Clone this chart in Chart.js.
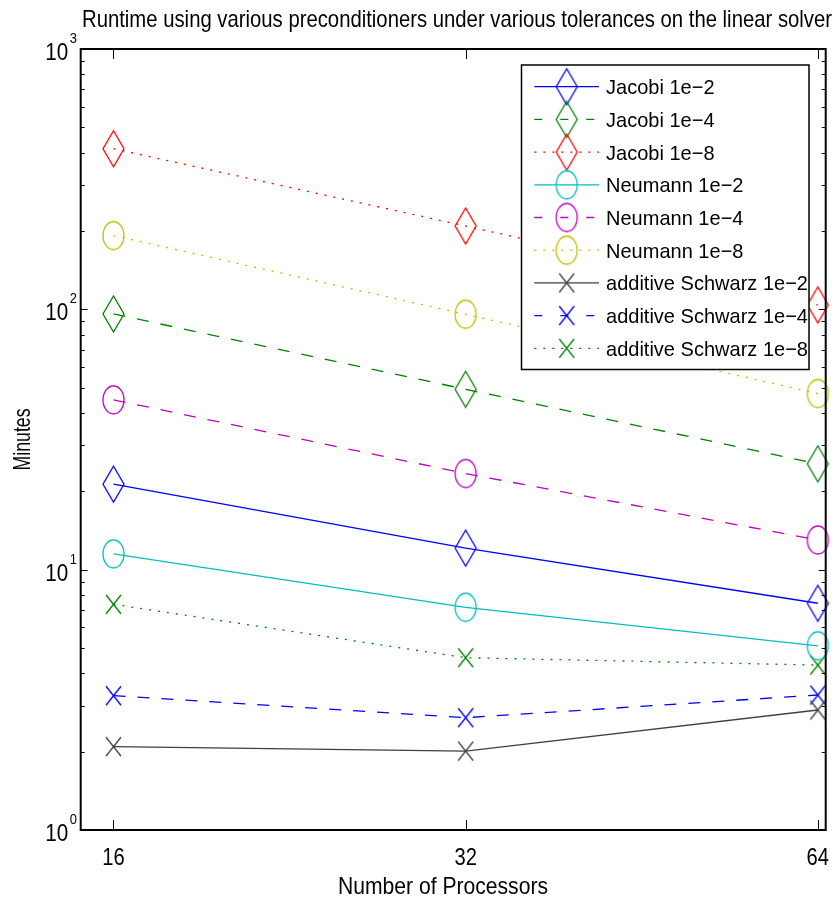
<!DOCTYPE html>
<html>
<head>
<meta charset="utf-8">
<script src="https://cdn.jsdelivr.net/npm/chart.js@4/dist/chart.umd.min.js"></script>
<style>
  html, body { margin: 0; padding: 0; background: #fff; }
  #chart-container { width: 834px; height: 903px; position: relative; }
</style>
</head>
<body>
<div id="chart-container"><canvas id="runtimeChart"></canvas></div>
<script>
// number of processors (x) and runtime in minutes (y) per preconditioner / tolerance
var processors = [16, 32, 64];
var jacobi2 = [21.3, 12.1, 7.43];
var jacobi4 = [96, 49.3, 25.5];
var jacobi8 = [414, 209, 104];
var neumann2 = [11.5, 7.17, 5.1];
var neumann4 = [44.9, 23.4, 13.0];
var neumann8 = [192, 95.7, 47.5];
var schwarz2 = [2.09, 2.01, 2.89];
var schwarz4 = [3.28, 2.70, 3.30];
var schwarz8 = [7.36, 4.59, 4.3];

var seriesLabels = ['Jacobi 1e\u22122', 'Jacobi 1e\u22124', 'Jacobi 1e\u22128',
  'Neumann 1e\u22122', 'Neumann 1e\u22124', 'Neumann 1e\u22128',
  'additive Schwarz 1e\u22122', 'additive Schwarz 1e\u22124', 'additive Schwarz 1e\u22128'];
var yTicks = [1, 10, 100, 1000];
var yTickExponents = ['0', '1', '2', '3'];
var xTicks = [16, 32, 64];

var titleText = 'Runtime using various preconditioners under various tolerances on the linear solver';
var xTitle = 'Number of Processors';
var yTitle = 'Minutes';

var FONT = '"Liberation Sans", Arial, Helvetica, sans-serif';

// hollow markers, a bit taller than wide like the original figure
function makeMarker(shape, color) {
  var w, h;
  if (shape == 'diamond') { w = 21; h = 36; }
  else if (shape == 'circle') { w = 21; h = 28; }
  else { w = 15; h = 19; }
  var c = document.createElement('canvas');
  c.width = w + 4;
  c.height = h + 4;
  var g = c.getContext('2d');
  g.strokeStyle = color;
  g.lineWidth = 1.3;
  var cx = c.width / 2, cy = c.height / 2;
  g.beginPath();
  if (shape == 'diamond') {
    g.moveTo(cx, cy - h / 2);
    g.lineTo(cx + w / 2, cy);
    g.lineTo(cx, cy + h / 2);
    g.lineTo(cx - w / 2, cy);
    g.closePath();
  } else if (shape == 'circle') {
    g.ellipse(cx, cy, w / 2, h / 2, 0, 0, Math.PI * 2);
  } else {
    g.moveTo(cx - w / 2, cy - h / 2);
    g.lineTo(cx + w / 2, cy + h / 2);
    g.moveTo(cx + w / 2, cy - h / 2);
    g.lineTo(cx - w / 2, cy + h / 2);
  }
  g.stroke();
  return c;
}

function points(values) {
  var out = [];
  for (var i = 0; i < processors.length; i++) {
    out.push({x: processors[i], y: values[i]});
  }
  return out;
}

var SOLID = [], DASH = [12, 12], DOT = [2, 7];

function series(idx, values, color, dash, shape) {
  return {
    label: seriesLabels[idx],
    data: points(values),
    borderColor: color,
    backgroundColor: color,
    borderWidth: 1.3,
    borderDash: dash,
    pointStyle: makeMarker(shape, color),
    pointRadius: 3,
    fill: false,
    tension: 0,
    clip: false
  };
}

var datasets = [
  series(0, jacobi2, '#0000ff', SOLID, 'diamond'),
  series(1, jacobi4, '#008000', DASH, 'diamond'),
  series(2, jacobi8, '#ff0000', DOT, 'diamond'),
  series(3, neumann2, '#00bfbf', SOLID, 'circle'),
  series(4, neumann4, '#bf00bf', DASH, 'circle'),
  series(5, neumann8, '#bfbf00', DOT, 'circle'),
  series(6, schwarz2, '#404040', SOLID, 'x'),
  series(7, schwarz4, '#0000ff', DASH, 'x'),
  series(8, schwarz8, '#008000', DOT, 'x')
];

function drawText(ctx, text, x, y, size, sx, align, rot) {
  ctx.save();
  ctx.translate(x, y);
  if (rot) ctx.rotate(rot);
  ctx.scale(sx, 1);
  ctx.font = size + 'px ' + FONT;
  ctx.textAlign = align;
  ctx.textBaseline = 'alphabetic';
  ctx.fillStyle = '#000';
  ctx.fillText(text, 0, 0);
  ctx.restore();
}

function fitScale(ctx, text, size, width) {
  ctx.save();
  ctx.font = size + 'px ' + FONT;
  var w = ctx.measureText(text).width;
  ctx.restore();
  return width / w;
}

// MATLAB style box: frame, inward ticks, superscript labels, titles, legend
var matlabAxes = {
  id: 'matlabAxes',
  afterDraw: function(chart) {
    var ctx = chart.ctx;
    var a = chart.chartArea;
    var xs = chart.scales.x, ys = chart.scales.y;

    ctx.save();
    ctx.strokeStyle = '#000';
    ctx.lineWidth = 1;
    ctx.setLineDash([]);
    ctx.beginPath();
    // y ticks, major and minor, on both sides
    for (var d = 0; d < yTicks.length; d++) {
      for (var m = 1; m < 10; m++) {
        var v = yTicks[d] * m;
        if (v > yTicks[yTicks.length - 1]) break;
        var py = Math.round(ys.getPixelForValue(v)) + 0.5;
        var len = m == 1 ? 7 : 4;
        ctx.moveTo(a.left, py); ctx.lineTo(a.left + len, py);
        ctx.moveTo(a.right, py); ctx.lineTo(a.right - len, py);
      }
    }
    // x ticks top and bottom
    for (var i = 0; i < xTicks.length; i++) {
      var px = Math.round(xs.getPixelForValue(xTicks[i])) + 0.5;
      ctx.moveTo(px, a.bottom); ctx.lineTo(px, a.bottom - 10);
      ctx.moveTo(px, a.top); ctx.lineTo(px, a.top + 10);
    }
    ctx.stroke();

    ctx.lineWidth = 2;
    ctx.strokeRect(a.left, a.top, a.right - a.left, a.bottom - a.top);
    ctx.restore();

    // tick labels
    for (var d = 0; d < yTicks.length; d++) {
      var ty = ys.getPixelForValue(yTicks[d]);
      drawText(ctx, '10', a.left - 12.5, ty + 11, 24, 0.86, 'right');
      drawText(ctx, yTickExponents[d], a.left - 11, ty - 6, 15, 0.86, 'left');
    }
    for (var i = 0; i < xTicks.length; i++) {
      drawText(ctx, String(xTicks[i]), xs.getPixelForValue(xTicks[i]), 865, 24, 0.84, 'center');
    }

    // titles
    drawText(ctx, titleText, 82, 27, 24, fitScale(ctx, titleText, 24, 750), 'left');
    drawText(ctx, xTitle, 443, 894, 24, fitScale(ctx, xTitle, 24, 210), 'center');
    drawText(ctx, yTitle, 30, (a.top + a.bottom) / 2, 24, fitScale(ctx, yTitle, 24, 62), 'center', -Math.PI / 2);

    // legend box
    var box = {left: 521.5, top: 65, right: 809, bottom: 369.5};
    ctx.save();
    ctx.fillStyle = '#fff';
    ctx.fillRect(box.left, box.top, box.right - box.left, box.bottom - box.top);
    ctx.strokeStyle = '#000';
    ctx.lineWidth = 1.5;
    ctx.strokeRect(box.left, box.top, box.right - box.left, box.bottom - box.top);
    ctx.restore();

    var legScale = fitScale(ctx, seriesLabels[6], 21, 202);
    var sets = chart.data.datasets;
    for (var k = 0; k < sets.length; k++) {
      var ly = 86.7 + k * 32.7;
      var ds = sets[k];
      ctx.save();
      ctx.strokeStyle = ds.borderColor;
      ctx.lineWidth = ds.borderWidth;
      if (ds.borderDash.length == 0) ctx.setLineDash([]);
      else if (ds.borderDash[0] > 5) ctx.setLineDash([8, 18]);
      else ctx.setLineDash(ds.borderDash);
      ctx.beginPath();
      ctx.moveTo(534.3, ly);
      ctx.lineTo(599, ly);
      ctx.stroke();
      var mk = ds.pointStyle;
      ctx.drawImage(mk, 566.7 - mk.width / 2, ly - mk.height / 2);
      ctx.restore();
      drawText(ctx, ds.label, 606, ly + 7.5, 21, legScale, 'left');
    }
  }
};

var ctx = document.getElementById('runtimeChart').getContext('2d');
var chart = new Chart(ctx, {
  type: 'line',
  data: { datasets: datasets },
  options: {
    responsive: true,
    maintainAspectRatio: false,
    animation: false,
    layout: { padding: { left: 80.7, right: 8.3, top: 49, bottom: 73 } },
    scales: {
      x: { type: 'logarithmic', min: 15, max: 65, display: false },
      y: { type: 'logarithmic', min: 1, max: 1000, display: false }
    },
    plugins: {
      legend: { display: false },
      tooltip: { enabled: false },
      title: { display: false }
    }
  },
  plugins: [matlabAxes]
});
</script>
</body>
</html>
